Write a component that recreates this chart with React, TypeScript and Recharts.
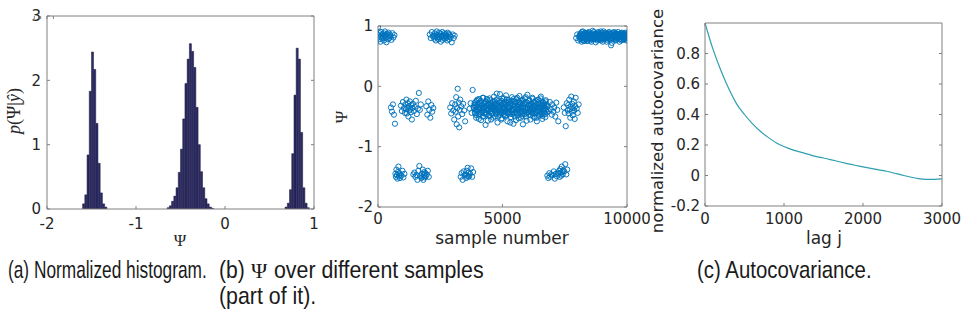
import React from "react";
import {
  BarChart,
  Bar,
  ScatterChart,
  Scatter,
  LineChart,
  Line,
  XAxis,
  YAxis,
} from "recharts";

// (a) normalized histogram of Psi, bin width 0.025
const histBinCenters = [
  -1.5875, -1.5625, -1.5375, -1.5125, -1.4875, -1.4625, -1.4375, -1.4125, -1.3875, -1.3625, -1.3375,
  -0.6375, -0.6125, -0.5875, -0.5625, -0.5375, -0.5125, -0.4875, -0.4625, -0.4375, -0.4125, -0.3875,
  -0.3625, -0.3375, -0.3125, -0.2875, -0.2625, -0.2375, -0.2125, -0.1875, -0.1625, -0.1375,
  0.6875, 0.7125, 0.7375, 0.7625, 0.7875, 0.8125, 0.8375, 0.8625, 0.8875, 0.9125, 0.9375,
];
const histDensity = [
  0.08, 0.22, 0.84, 1.83, 2.44, 2.17, 1.33, 0.71, 0.25, 0.08, 0.03,
  0.02, 0.05, 0.12, 0.2, 0.33, 0.57, 0.93, 1.4, 1.95, 2.33, 2.57,
  2.45, 2.2, 1.58, 1.0, 0.58, 0.33, 0.16, 0.08, 0.03, 0.01,
  0.03, 0.09, 0.3, 0.86, 1.77, 2.5, 2.33, 1.19, 0.33, 0.09, 0.02,
];
const histTicksX = [-2, -1, 0, 1];
const histTicksY = [0, 1, 2, 3];

// (b) Psi over the samples, one value every 20 samples
const sampleStep = 20;
const psiTrace = [
  // 0 - 480
  0.98, 0.85, 0.78, 0.88, 0.82, 0.74, 0.9, 0.84, 0.79, 0.86, 0.81, 0.88, 0.76, 0.83, 0.91, 0.8, 0.85, 0.73, 0.87, 0.82, 0.78, 0.89, 0.84, 0.8, 0.86,
  // 500 - 680
  0.83, -0.35, 0.77, -0.42, 0.88, -0.3, 0.81, -0.47, 0.85, -0.62,
  // 700 - 900
  -1.45, -1.5, -1.38, -1.47, -1.53, -1.42, -1.33, -1.49, -1.44, -1.52, -1.46,
  // 920 - 1080
  -0.32, -1.48, -0.41, -1.4, -0.26, -1.51, -0.36, -1.45, -0.44,
  // 1100 - 1380
  -0.3, -0.38, -0.22, -0.45, -0.35, -0.28, -0.5, -0.33, -0.4, -0.25, -0.37, -0.43, -0.31, -0.55, -0.36,
  // 1400 - 1740
  -0.29, -1.46, -0.41, -1.43, -0.34, -1.5, -0.24, -1.47, -0.46, -1.55, -0.37, -1.4, -0.11, -1.32, -0.39, -1.48, -0.3, -1.52,
  // 1760 - 1920
  -1.45, -1.5, -1.38, -1.55, -1.47, -1.42, -1.51, -1.44, -1.49,
  // 1940 - 2060
  -0.33, -1.46, -0.47, -1.4, -0.25, -1.5, -0.39,
  // 2080 - 2220
  0.86, -0.52, 0.8, -0.31, 0.9, -0.42, 0.83, -0.36,
  // 2240 - 2880
  0.84, 0.79, 0.88, 0.82, 0.76, 0.86, 0.91, 0.81, 0.85, 0.78, 0.83, 0.89, 0.8, 0.87, 0.74, 0.84, 0.82, 0.9, 0.77, 0.85,
  0.81, 0.88, 0.79, 0.83, 0.86, 0.8, 0.84, 0.76, 0.89, 0.82, 0.87, 0.78, 0.85,
  // 2900 - 3080
  -0.35, 0.82, -0.45, 0.73, -0.28, 0.86, -0.4, 0.8, -0.55, 0.84,
  // 3100 - 3300
  -0.3, -0.42, -0.18, -0.63, -0.36, -0.04, -0.5, -0.27, -0.68, -0.39, -0.22,
  // 3320 - 3500
  -1.5, -0.33, -1.44, -0.46, -1.55, -0.29, -1.41, -0.4, -1.47, -0.58,
  // 3520 - 3660
  -1.46, -1.52, -1.4, -1.48, -1.35, -1.5, -1.43, -1.49,
  // 3680 - 3840
  -0.37, -1.45, -0.28, -1.36, -0.44, -1.5, -0.06, -1.42, -0.35,
  // 3860 - 6780
  -0.36, -0.28, -0.45, -0.33, -0.52, -0.24, -0.41, -0.3, -0.38, -0.47,
  -0.21, -0.35, -0.43, -0.27, -0.56, -0.32, -0.4, -0.19, -0.37, -0.5,
  -0.29, -0.44, -0.34, -0.64, -0.26, -0.39, -0.46, -0.23, -0.36, -0.31,
  -0.48, -0.2, -0.42, -0.33, -0.55, -0.28, -0.38, -0.45, -0.25, -0.35,
  -0.17, -0.41, -0.3, -0.5, -0.36, -0.22, -0.44, -0.6, -0.32, -0.39,
  -0.27, -0.47, -0.13, -0.34, -0.43, -0.24, -0.53, -0.37, -0.29, -0.41,
  -0.2, -0.36, -0.49, -0.31, -0.15, -0.44, -0.26, -0.58, -0.35, -0.4,
  -0.23, -0.46, -0.33, -0.28, -0.51, -0.38, -0.18, -0.42, -0.3, -0.62,
  -0.37, -0.25, -0.45, -0.32, -0.56, -0.21, -0.4, -0.34, -0.48, -0.27,
  -0.39, -0.16, -0.43, -0.3, -0.52, -0.35, -0.24, -0.46, -0.63, -0.33,
  -0.28, -0.41, -0.2, -0.37, -0.5, -0.26, -0.44, -0.14, -0.36, -0.31,
  -0.47, -0.23, -0.39, -0.55, -0.29, -0.42, -0.34, -0.19, -0.45, -0.38,
  -0.27, -0.52, -0.33, -0.24, -0.43, -0.36, -0.58, -0.3, -0.41, -0.22,
  -0.35, -0.49, -0.28, -0.4, -0.17, -0.46, -0.32, -0.54, -0.26, -0.38,
  -0.44, -0.29, -0.36, -0.51, -0.23, -0.4, -0.33,
  // 6800 - 6980
  -1.48, -0.33, -1.52, -0.41, -1.44, -0.26, -1.5, -0.38, -1.46, -0.47,
  // 7000 - 7240
  -0.3, -1.47, -0.42, -1.41, -0.35, -1.53, -0.5, -1.45, -0.27, -1.49, -0.39, -1.43, -0.58,
  // 7260 - 7440
  -1.45, -1.4, -1.5, -1.37, -1.43, -1.48, -1.33, -1.42, -1.46, -1.39,
  // 7460 - 7620
  -0.35, -1.41, -0.44, -1.29, -0.66, -1.46, -0.28, -1.38, -0.4,
  // 7640 - 7940
  -0.31, -0.45, -0.22, -0.38, -0.52, -0.34, -0.17, -0.42, -0.29, -0.48, -0.36, -0.25, -0.4, -0.54, -0.33, -0.19,
  // 7960 - 8080
  0.8, -0.37, 0.86, -0.44, 0.76, -0.3, 0.83,
  // 8100 - 10000
  0.84, 0.78, 0.88, 0.81, 0.74, 0.86, 0.91, 0.8, 0.85, 0.77,
  0.83, 0.89, 0.79, 0.86, 0.82, 0.75, 0.88, 0.84, 0.8, 0.9,
  0.81, 0.76, 0.85, 0.87, 0.79, 0.83, 0.92, 0.78, 0.84, 0.8,
  0.86, 0.82, 0.73, 0.88, 0.81, 0.85, 0.79, 0.9, 0.83, 0.77,
  0.87, 0.8, 0.84, 0.76, 0.89, 0.82, 0.86, 0.78, 0.91, 0.83,
  0.79, 0.85, 0.81, 0.88, 0.74, 0.84, 0.87, 0.8, 0.83, 0.9,
  0.82, 0.77, 0.86, 0.68, 0.84, 0.8, 0.89, 0.83, 0.78, 0.85,
  0.81, 0.88, 0.76, 0.84, 0.87, 0.79, 0.83, 0.9, 0.8, 0.86,
  0.74, 0.85, 0.82, 0.88, 0.78, 0.84, 0.81, 0.87, 0.77, 0.86,
  0.83, 0.79, 0.89, 0.82, 0.76, 0.85,
];
// in-between samples of the two long stretches (middle mode from 3870, upper mode from 8110)
const middleStretchStart = 3870;
const middleStretch = [
  -0.31, -0.43, -0.26, -0.39, -0.48, -0.33, -0.22, -0.41, -0.35, -0.54,
  -0.28, -0.38, -0.46, -0.24, -0.36, -0.42, -0.3, -0.5, -0.19, -0.37,
  -0.44, -0.27, -0.35, -0.47, -0.32, -0.21, -0.4, -0.57, -0.29, -0.38,
  -0.34, -0.49, -0.23, -0.41, -0.3, -0.45, -0.36, -0.26, -0.52, -0.33,
  -0.4, -0.25, -0.37, -0.46, -0.29, -0.12, -0.42, -0.34, -0.5, -0.24,
  -0.36, -0.44, -0.28, -0.39, -0.55, -0.31, -0.2, -0.43, -0.35, -0.47,
  -0.26, -0.38, -0.41, -0.3, -0.48, -0.22, -0.37, -0.45, -0.33, -0.27,
  -0.43, -0.35, -0.6, -0.29, -0.4, -0.24, -0.46, -0.32, -0.38, -0.21,
  -0.34, -0.5, -0.27, -0.42, -0.36, -0.45, -0.19, -0.39, -0.31, -0.53,
  -0.25, -0.37, -0.44, -0.28, -0.41, -0.33, -0.49, -0.22, -0.36, -0.42,
  -0.3, -0.46, -0.35, -0.18, -0.4, -0.57, -0.27, -0.38, -0.43, -0.32,
  -0.24, -0.41, -0.36, -0.48, -0.29, -0.34, -0.44, -0.21, -0.39, -0.5,
  -0.33, -0.26, -0.45, -0.37, -0.3, -0.52, -0.4, -0.23, -0.35, -0.47,
  -0.29, -0.42, -0.34, -0.2, -0.44, -0.38, -0.31, -0.49, -0.27, -0.36,
  -0.41, -0.32, -0.46, -0.25, -0.38, -0.3, -0.43,
];
const upperStretchStart = 8110;
const upperStretch = [
  0.82, 0.87, 0.79, 0.84, 0.9, 0.77, 0.83, 0.86, 0.75, 0.81,
  0.88, 0.8, 0.85, 0.78, 0.83, 0.89, 0.76, 0.84, 0.87, 0.81,
  0.79, 0.86, 0.82, 0.74, 0.88, 0.83, 0.8, 0.85, 0.9, 0.78,
  0.84, 0.81, 0.87, 0.79, 0.83, 0.76, 0.86, 0.82, 0.88, 0.8,
  0.85, 0.78, 0.91, 0.83, 0.8, 0.86, 0.74, 0.84, 0.81, 0.87,
  0.82, 0.89, 0.79, 0.85, 0.83, 0.77, 0.86, 0.8, 0.88, 0.84,
  0.78, 0.83, 0.87, 0.81, 0.72, 0.85, 0.8, 0.86, 0.82, 0.9,
  0.79, 0.84, 0.77, 0.88, 0.83, 0.81, 0.86, 0.8, 0.85, 0.78,
  0.87, 0.82, 0.84, 0.76, 0.89, 0.81, 0.85, 0.79, 0.83, 0.88,
  0.8, 0.86, 0.82, 0.78, 0.84, 0.87,
];
const sampleTicks = [0, 5000, 10000];
const psiTicks = [-2, -1, 0, 1];

// (c) normalized autocovariance
const lags = [
  0, 100, 200, 300, 400, 500, 600, 700, 800, 900, 1000, 1100, 1200, 1300, 1400, 1500,
  1600, 1700, 1800, 1900, 2000, 2100, 2200, 2300, 2400, 2500, 2600, 2700, 2800, 2900, 3000,
];
const autocov = [
  1.0, 0.83, 0.69, 0.57, 0.47, 0.4, 0.34, 0.29, 0.25, 0.215, 0.19, 0.17, 0.155, 0.14, 0.125, 0.115,
  0.103, 0.09, 0.078, 0.067, 0.057, 0.047, 0.037, 0.028, 0.015, 0.002, -0.01, -0.02, -0.025, -0.025, -0.022,
];
const lagTicks = [0, 1000, 2000, 3000];
const autocovTicks = [-0.2, 0, 0.2, 0.4, 0.6, 0.8];

const histData = histBinCenters.map((psi, i) => ({ psi, density: histDensity[i] }));
const traceData = [
  ...psiTrace.map((psi, i) => ({ sample: i * sampleStep, psi })),
  ...middleStretch.map((psi, i) => ({ sample: middleStretchStart + i * sampleStep, psi })),
  ...upperStretch.map((psi, i) => ({ sample: upperStretchStart + i * sampleStep, psi })),
];
const autocovData = lags.map((lag, i) => ({ lag, value: autocov[i] }));

const AXIS_COLOR = "#808080";
const TEXT_COLOR = "#262626";
const tickFont = { fill: TEXT_COLOR, fontSize: 15, fontFamily: "'DejaVu Sans', sans-serif" };
const blank = () => "";

// MATLAB style box: labelled bottom/left axes, plain top/right axes, ticks pointing inwards
function boxAxes(
  xKey: string,
  xDomain: number[],
  xTicks: number[],
  yKey: string | undefined,
  yDomain: number[],
  yTicks: number[],
  yWidth: number,
  xHeight: number,
  xMargin: number,
  yMargin: number
) {
  return [
    <XAxis
      key="xb"
      xAxisId="main"
      dataKey={xKey}
      type="number"
      domain={xDomain}
      ticks={xTicks}
      allowDataOverflow
      interval={0}
      height={xHeight}
      stroke={AXIS_COLOR}
      tickSize={-3}
      tickMargin={xMargin}
      tick={tickFont}
    />,
    <XAxis
      key="xt"
      xAxisId="top"
      orientation="top"
      type="number"
      domain={xDomain}
      ticks={xTicks}
      allowDataOverflow
      interval={0}
      height={1}
      stroke={AXIS_COLOR}
      tickSize={-3}
      tickFormatter={blank}
    />,
    <YAxis
      key="yl"
      yAxisId="main"
      dataKey={yKey}
      type="number"
      domain={yDomain}
      ticks={yTicks}
      allowDataOverflow
      interval={0}
      width={yWidth}
      stroke={AXIS_COLOR}
      tickSize={-3}
      tickMargin={yMargin}
      tick={tickFont}
    />,
    <YAxis
      key="yr"
      yAxisId="right"
      orientation="right"
      type="number"
      domain={yDomain}
      ticks={yTicks}
      allowDataOverflow
      interval={0}
      width={1}
      stroke={AXIS_COLOR}
      tickSize={-3}
      tickFormatter={blank}
    />,
  ];
}

const OpenCircle = (props: any) => (
  <circle cx={props.cx} cy={props.cy} r={2.6} fill="none" stroke="#0072BD" strokeWidth={0.95} />
);

const sans = "'Liberation Sans', Arial, sans-serif";
const serif = "'Liberation Serif', 'DejaVu Serif', serif";
const CAPTION_SIZE = 24;

// caption text squeezed horizontally (condensed look of the original)
function Caption({ x, y, sx, children, font = sans, size = CAPTION_SIZE }: any) {
  return (
    <text
      transform={`translate(${x} ${y}) scale(${sx} 1)`}
      fontFamily={font}
      fontSize={size}
      fill="#1a1a1a"
    >
      {children}
    </text>
  );
}

export default function App() {
  return (
    <div
      style={{
        position: "absolute",
        left: 0,
        top: 0,
        width: 965,
        height: 322,
        background: "#fff",
        overflow: "hidden",
      }}
    >
      <div style={{ position: "absolute", left: 0, top: 0 }}>
        <BarChart
          width={330}
          height={250}
          data={histData}
          margin={{ top: 15, right: 15, bottom: 0, left: 0 }}
          barCategoryGap={0}
          barGap={0}
        >
          {boxAxes("psi", [-2, 1], histTicksX, undefined, [0, 3], histTicksY, 47, 41, 12, 9)}
          <Bar
            xAxisId="main"
            yAxisId="main"
            dataKey="density"
            fill="#2d2b6b"
            stroke="#141433"
            strokeWidth={0.5}
            isAnimationActive={false}
          />
        </BarChart>
      </div>

      <div style={{ position: "absolute", left: 320, top: 0 }}>
        <ScatterChart width={330} height={250} margin={{ top: 25, right: 22, bottom: 0, left: 0 }}>
          {boxAxes("sample", [0, 10000], sampleTicks, "psi", [-2, 1], psiTicks, 58, 43, 9, 8)}
          <Scatter
            xAxisId="main"
            yAxisId="main"
            data={traceData}
            shape={OpenCircle}
            isAnimationActive={false}
          />
        </ScatterChart>
      </div>

      <div style={{ position: "absolute", left: 640, top: 0 }}>
        <LineChart
          width={325}
          height={250}
          data={autocovData}
          margin={{ top: 22, right: 22, bottom: 0, left: 0 }}
        >
          {boxAxes("lag", [0, 3000], lagTicks, undefined, [-0.2, 1], autocovTicks, 65, 44, 10, 8)}
          <Line
            xAxisId="main"
            yAxisId="main"
            dataKey="value"
            type="monotone"
            stroke="#2e9fae"
            strokeWidth={1.2}
            dot={false}
            isAnimationActive={false}
          />
        </LineChart>
      </div>

      <svg
        width={965}
        height={322}
        style={{ position: "absolute", left: 0, top: 0, pointerEvents: "none" }}
      >
        {/* axis titles */}
        <text
          x={20}
          y={111}
          transform="rotate(-90 20 111)"
          textAnchor="middle"
          fontFamily={serif}
          fontSize={18}
          fill={TEXT_COLOR}
        >
          <tspan fontStyle="italic">p</tspan>(Ψ|<tspan fontStyle="italic">ŷ</tspan>)
        </text>
        <text x={180} y={246} textAnchor="middle" fontFamily={serif} fontSize={17} fill={TEXT_COLOR}>
          Ψ
        </text>
        <text
          x={347}
          y={117}
          transform="rotate(-90 347 117)"
          textAnchor="middle"
          fontFamily={serif}
          fontSize={17}
          fill={TEXT_COLOR}
        >
          Ψ
        </text>
        <text
          x={502}
          y={244}
          textAnchor="middle"
          fontFamily="'DejaVu Sans', sans-serif"
          fontSize={17}
          fill={TEXT_COLOR}
        >
          sample number
        </text>
        <text
          x={663}
          y={121}
          transform="rotate(-90 663 121)"
          textAnchor="middle"
          fontFamily="'DejaVu Sans', sans-serif"
          fontSize={16.5}
          fill={TEXT_COLOR}
        >
          normalized autocovariance
        </text>
        <text
          x={824}
          y={244}
          textAnchor="middle"
          fontFamily="'DejaVu Sans', sans-serif"
          fontSize={17}
          fill={TEXT_COLOR}
        >
          lag j
        </text>

        {/* sub-captions */}
        <Caption x={8} y={278} sx={0.72}>
          (a) Normalized histogram.
        </Caption>
        <Caption x={219} y={278} sx={0.88}>
          (b)
        </Caption>
        <Caption x={251} y={278} sx={1} font={serif} size={22}>
          Ψ
        </Caption>
        <Caption x={274} y={278} sx={0.89}>
          over different samples
        </Caption>
        <Caption x={219} y={304} sx={0.89}>
          (part of it).
        </Caption>
        <Caption x={697} y={278} sx={0.85}>
          (c) Autocovariance.
        </Caption>
      </svg>
    </div>
  );
}
